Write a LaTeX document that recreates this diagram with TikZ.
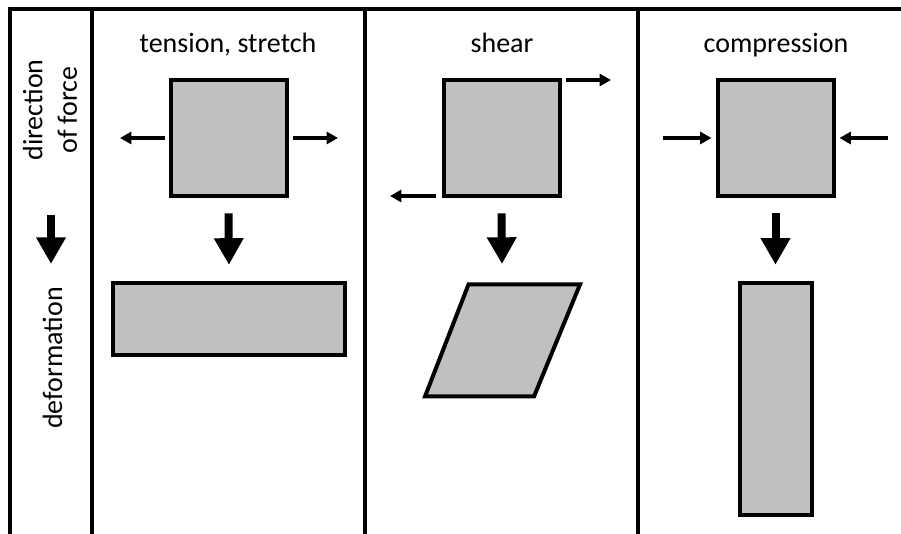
\documentclass[tikz,border=0pt]{standalone}
\usepackage{fontspec}
\setmainfont{Carlito}
\usetikzlibrary{arrows.meta}
\begin{document}
\begin{tikzpicture}[x=0.75pt,y=-0.75pt,
  frame/.style={line width=3pt},
  boxshape/.style={draw=black, fill=boxgray, line width=3pt, inner sep=0pt, outer sep=0pt},
  force/.style={line width=2.6pt, -{Triangle[length=8.5pt,width=9pt]}},
  bigarrow/.style={line width=6pt, -{Triangle[length=20pt,width=21pt]}},
  label/.style={font=\fontsize{21}{26}\selectfont, inner sep=0pt}
]
\definecolor{boxgray}{RGB}{192,192,192}
\useasboundingbox (0,0) rectangle (901,534);
% frame
\draw[frame] (10,534) -- (10,9) -- (901,9);
\draw[frame] (92,9) -- (92,534);
\draw[frame] (365,9) -- (365,534);
\draw[frame] (638,9) -- (638,534);
% headings
\node[label, anchor=base] (h1) at (228,53) {tension, stretch};
\node[label, anchor=base] (h2) at (502,53) {shear};
\node[label, anchor=base] (h3) at (776,53) {compression};
\node[label, rotate=90, align=center] (dir) at (50,110) {direction\\of force};
\node[label, rotate=90, anchor=base] (def) at (62,358) {deformation};
% left column arrow
\coordinate (lcA) at (51,215);
\coordinate (lcB) at (51,264);
\draw[bigarrow] (lcA) -- (lcB);
% tension
\node[boxshape, minimum width=87pt, minimum height=87pt] (t1) at (228.5,138) {};
\node[boxshape, minimum width=174.5pt, minimum height=54pt] (t2) at (229,319.5) {};
\coordinate (tL) at (120,138);
\coordinate (tR) at (338,138);
\draw[force] ([xshift=-4.5pt]t1.west) -- (tL);
\draw[force] ([xshift=4.5pt]t1.east) -- (tR);
\draw[bigarrow] ([yshift=-13pt]t1.south) -- ([yshift=14pt]t2.north);
% shear
\node[boxshape, minimum width=87pt, minimum height=87pt] (s1) at (501.5,138) {};
\coordinate (sA) at (566,80);
\coordinate (sR) at (611,80);
\coordinate (sB) at (436,196);
\coordinate (sL) at (390,196);
\draw[force] (sA) -- (sR);
\draw[force] (sB) -- (sL);
\coordinate (p1) at (468.5,284.5);
\coordinate (p2) at (580,284.5);
\coordinate (p3) at (534,396.5);
\coordinate (p4) at (425,396.5);
\draw[fill=boxgray, line width=3pt, line join=miter] (p1) -- (p2) -- (p3) -- (p4) -- cycle;
\coordinate (sTop) at (502,264);
\draw[bigarrow] ([yshift=-13pt]s1.south) -- (sTop);
% compression
\node[boxshape, minimum width=87pt, minimum height=87pt] (c1) at (775.5,138) {};
\node[boxshape, minimum width=54pt, minimum height=174pt] (c2) at (775.5,399.5) {};
\coordinate (cL) at (663,138);
\coordinate (cR) at (888,138);
\draw[force] (cL) -- ([xshift=-4.5pt]c1.west);
\draw[force] (cR) -- ([xshift=4.5pt]c1.east);
\draw[bigarrow] ([yshift=-13pt]c1.south) -- ([yshift=14pt]c2.north);
\end{tikzpicture}
\end{document}
